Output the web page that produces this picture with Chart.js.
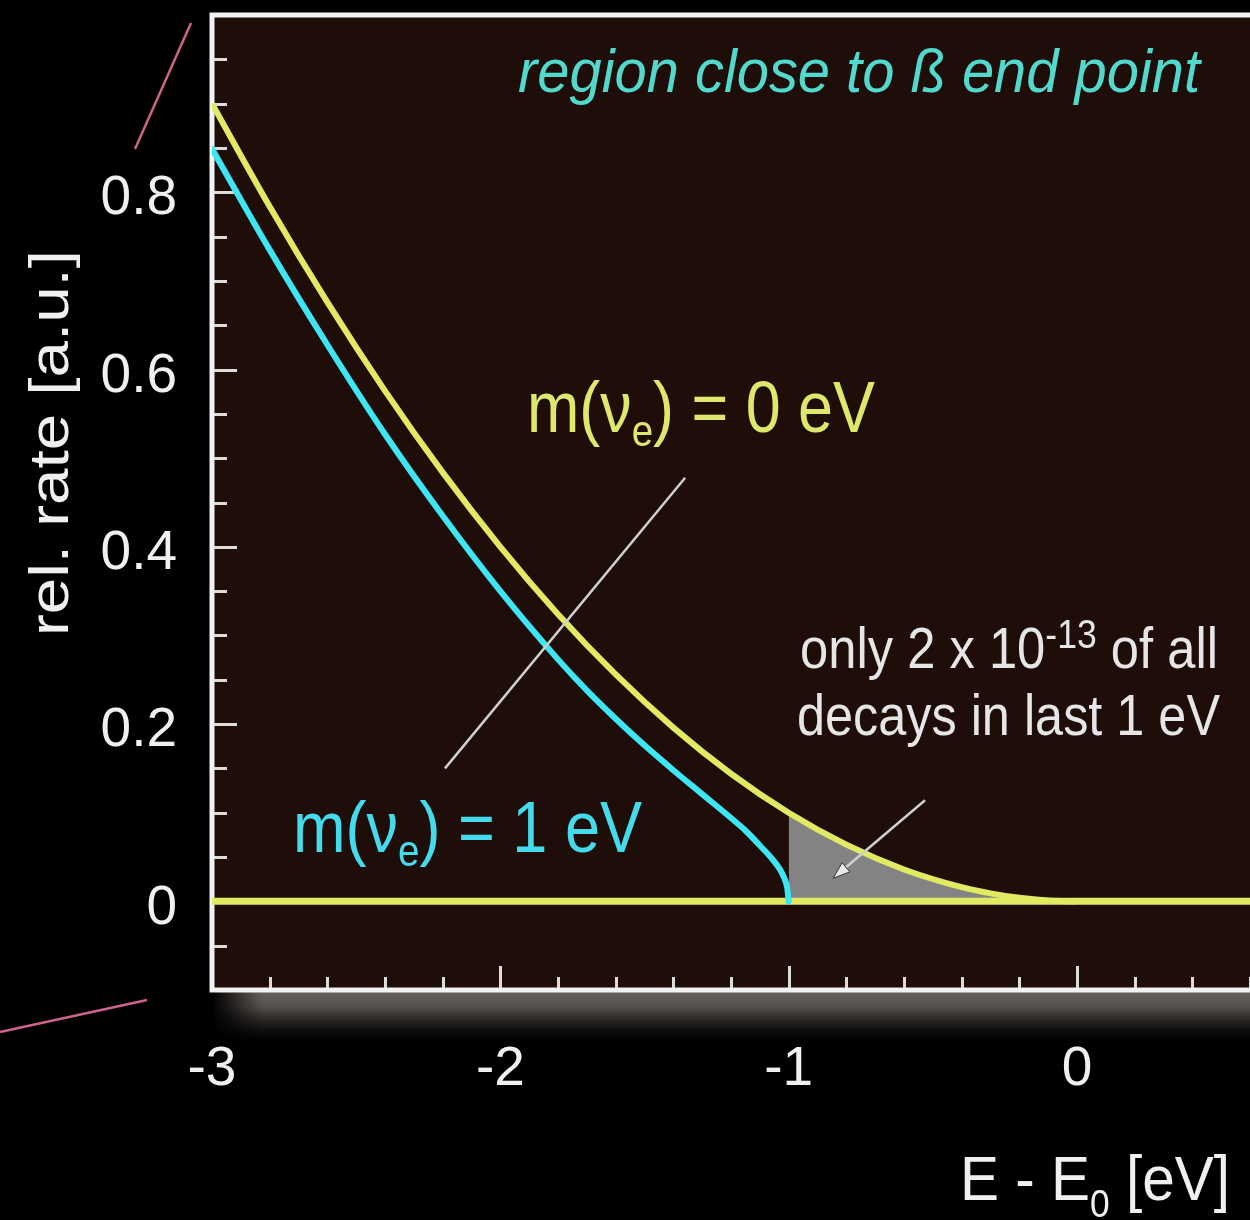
<!DOCTYPE html>
<html>
<head>
<meta charset="utf-8">
<title>Beta spectrum near the end point</title>
<script src="https://cdn.jsdelivr.net/npm/chart.js@4.4.1/dist/chart.umd.min.js"></script>
<style>
  html, body { margin: 0; padding: 0; background: #000; }
  #wrap { position: relative; width: 1250px; height: 1220px; overflow: hidden; }
</style>
</head>
<body>
<div id="wrap"><canvas id="spectrum"></canvas></div>
<script>
// Relative beta decay rate close to the end point E0, for two neutrino masses.

// m(nu_e) = 0 eV
const energyM0 = [-3.0, -2.8, -2.6, -2.4, -2.2, -2.0, -1.8, -1.6, -1.4, -1.2, -1.0, -0.8, -0.6, -0.4, -0.3, -0.2, -0.1, 0.0];
const rateM0   = [0.900, 0.784, 0.676, 0.576, 0.484, 0.400, 0.324, 0.256, 0.196, 0.144, 0.100, 0.064, 0.036, 0.016, 0.009, 0.004, 0.001, 0.000];

// m(nu_e) = 1 eV
const energyM1 = [-3.0, -2.8, -2.6, -2.4, -2.2, -2.0, -1.8, -1.7, -1.6, -1.5, -1.4, -1.3, -1.2, -1.15, -1.1, -1.06, -1.03, -1.015, -1.005, -1.0];
const rateM1   = [0.849, 0.735, 0.628, 0.527, 0.435, 0.350, 0.273, 0.238, 0.206, 0.176, 0.148, 0.121, 0.094, 0.080, 0.063, 0.049, 0.036, 0.026, 0.015, 0.000];

// zero-rate reference line
const baselineEnergy = [-3.0, 0.6];
const baselineRate   = [0.0, 0.0];

// shaded part: the last 1 eV below E0
const lastEvFrom = -1.0;

// axes
const xTickValues = [-3, -2, -1, 0];
const xTickLabels = ['-3', '-2', '-1', '0'];
const yTickValues = [0, 0.2, 0.4, 0.6, 0.8];
const yTickLabels = ['0', '0.2', '0.4', '0.6', '0.8'];

const FONT = "'Liberation Sans', Arial, Helvetica, sans-serif";
const YELLOW = '#e0ea62';
const CYAN = '#3ee6f4';

const zip = (xs, ys) => xs.map((x, i) => ({ x: x, y: ys[i] }));
const shadePoints = zip(energyM0, rateM0).filter(p => p.x >= lastEvFrom);

// draws a run of text pieces (with sub/superscripts), squeezed to a given width
function drawRich(ctx, parts, x, y, width, color, italic) {
  ctx.save();
  let natural = 0;
  parts.forEach(p => {
    ctx.font = (italic ? 'italic ' : '') + p.size + 'px ' + FONT;
    natural += ctx.measureText(p.t).width;
  });
  const sx = width / natural;
  ctx.translate(x, y);
  ctx.scale(sx, 1);
  ctx.fillStyle = color;
  ctx.textBaseline = 'alphabetic';
  ctx.textAlign = 'left';
  let cx = 0;
  parts.forEach(p => {
    ctx.font = (italic ? 'italic ' : '') + p.size + 'px ' + FONT;
    ctx.fillText(p.t, cx, p.dy || 0);
    cx += ctx.measureText(p.t).width;
  });
  ctx.restore();
}

const framePlugin = {
  id: 'frame',
  beforeDraw(chart) {
    const { ctx, chartArea: a, width, height } = chart;
    ctx.save();
    ctx.fillStyle = '#000';
    ctx.fillRect(0, 0, width, height);
    ctx.fillStyle = '#1e0d08';
    ctx.fillRect(a.left, a.top, a.right - a.left, a.bottom - a.top);
    // soft light band under the energy axis
    const top = a.bottom + 2, depth = 52;
    const g = ctx.createLinearGradient(0, top, 0, top + depth);
    g.addColorStop(0, 'rgba(104,98,94,1)');
    g.addColorStop(0.3, 'rgba(92,86,83,0.9)');
    g.addColorStop(0.65, 'rgba(50,47,45,0.55)');
    g.addColorStop(1, 'rgba(0,0,0,0)');
    ctx.fillStyle = g;
    ctx.fillRect(a.left, top, width - a.left, depth);
    const h = ctx.createLinearGradient(a.left, 0, a.left + 50, 0);
    h.addColorStop(0, 'rgba(0,0,0,1)');
    h.addColorStop(1, 'rgba(0,0,0,0)');
    ctx.fillStyle = h;
    ctx.fillRect(a.left - 2, top, 52, depth);
    ctx.restore();
  },
  beforeDatasetsDraw(chart) {
    const { ctx, chartArea: a, scales } = chart;
    const xs = scales.x, ys = scales.y;
    ctx.save();
    ctx.strokeStyle = '#dcdcdc';
    ctx.lineWidth = 3;
    ctx.lineCap = 'butt';
    // x ticks every 0.2, pointing into the plot
    for (let k = -30; k <= 6; k += 2) {
      const px = Math.round(xs.getPixelForValue(k / 10)) + 0.5;
      const len = (k % 10 === 0) ? 24 : 13;
      ctx.beginPath();
      ctx.moveTo(px, a.bottom);
      ctx.lineTo(px, a.bottom - len);
      ctx.stroke();
    }
    // y ticks every 0.05
    for (let k = -2; k <= 20; k++) {
      const py = Math.round(ys.getPixelForValue(k * 0.05)) + 0.5;
      const len = (k % 4 === 0) ? 25 : 15;
      ctx.beginPath();
      ctx.moveTo(a.left, py);
      ctx.lineTo(a.left + len, py);
      ctx.stroke();
    }
    // frame: left, top and bottom edges
    ctx.strokeStyle = '#f2f2f2';
    ctx.lineWidth = 5;
    ctx.beginPath();
    ctx.moveTo(a.right + 5, a.top);
    ctx.lineTo(a.left, a.top);
    ctx.lineTo(a.left, a.bottom);
    ctx.lineTo(a.right + 5, a.bottom);
    ctx.stroke();
    ctx.restore();
  },
  afterDatasetsDraw(chart) {
    const { ctx, scales } = chart;
    const xs = scales.x, ys = scales.y;
    const P = (x, y) => [xs.getPixelForValue(x), ys.getPixelForValue(y)];
    ctx.save();

    // pointer from the m = 0 label across both curves
    ctx.strokeStyle = '#cfcfcf';
    ctx.lineWidth = 2.5;
    let p1 = P(-2.192, 0.150), p2 = P(-1.359, 0.478);
    ctx.beginPath(); ctx.moveTo(p1[0], p1[1]); ctx.lineTo(p2[0], p2[1]); ctx.stroke();

    // arrow onto the shaded area
    const a1 = P(-0.527, 0.114), a2 = P(-0.846, 0.026);
    const ang = Math.atan2(a2[1] - a1[1], a2[0] - a1[0]);
    const hl = 17, hw = 6;
    const bx = a2[0] - hl * Math.cos(ang), by = a2[1] - hl * Math.sin(ang);
    ctx.beginPath(); ctx.moveTo(a1[0], a1[1]); ctx.lineTo(bx, by); ctx.stroke();
    ctx.beginPath();
    ctx.moveTo(a2[0], a2[1]);
    ctx.lineTo(bx + hw * Math.sin(ang), by - hw * Math.cos(ang));
    ctx.lineTo(bx - hw * Math.sin(ang), by + hw * Math.cos(ang));
    ctx.closePath();
    ctx.fillStyle = '#e8e8e8';
    ctx.fill();
    ctx.strokeStyle = '#333';
    ctx.lineWidth = 1;
    ctx.stroke();

    // labels inside the plot
    drawRich(ctx, [{ t: 'region close to ß end point', size: 62 }], 518, 92, 682, '#52d8cc', true);
    drawRich(ctx, [{ t: 'm(ν', size: 72 }, { t: 'e', size: 44, dy: 14 }, { t: ') = 0 eV', size: 72 }],
             527, 432, 348, '#dde86c', false);
    drawRich(ctx, [{ t: 'm(ν', size: 72 }, { t: 'e', size: 44, dy: 14 }, { t: ') = 1 eV', size: 72 }],
             293, 852, 349, '#44dcec', false);
    drawRich(ctx, [{ t: 'only 2 x 10', size: 57 }, { t: '-13', size: 40, dy: -20 }, { t: ' of all', size: 57 }],
             800, 668, 418, '#e6e6e6', false);
    drawRich(ctx, [{ t: 'decays in last 1 eV', size: 57 }], 797, 735, 423, '#e6e6e6', false);

    // axis titles
    drawRich(ctx, [{ t: 'E - E', size: 63 }, { t: '0', size: 38, dy: 17 }, { t: ' [eV]', size: 63 }],
             960, 1200, 270, '#f0f0f0', false);
    ctx.save();
    ctx.translate(68, 636);
    ctx.rotate(-Math.PI / 2);
    drawRich(ctx, [{ t: 'rel. rate [a.u.]', size: 56 }], 0, 0, 386, '#f0f0f0', false);
    ctx.restore();

    // pink guide strokes in the margin
    ctx.strokeStyle = '#cf6390';
    ctx.lineWidth = 2.5;
    ctx.beginPath(); ctx.moveTo(135, 149); ctx.lineTo(191, 23); ctx.stroke();
    ctx.beginPath(); ctx.moveTo(0, 1032); ctx.lineTo(147, 1000); ctx.stroke();

    ctx.restore();
  }
};

new Chart(document.getElementById('spectrum'), {
  type: 'line',
  data: {
    datasets: [
      {
        label: 'last 1 eV',
        data: shadePoints,
        borderWidth: 0,
        pointRadius: 0,
        backgroundColor: '#838383',
        fill: 'origin',
        cubicInterpolationMode: 'monotone',
        order: 4
      },
      {
        label: 'zero',
        data: zip(baselineEnergy, baselineRate),
        borderColor: YELLOW,
        borderWidth: 7,
        pointRadius: 0,
        fill: false,
        order: 3
      },
      {
        label: 'm(νe) = 0 eV',
        data: zip(energyM0, rateM0),
        borderColor: YELLOW,
        borderWidth: 6,
        pointRadius: 0,
        fill: false,
        cubicInterpolationMode: 'monotone',
        order: 2
      },
      {
        label: 'm(νe) = 1 eV',
        data: zip(energyM1, rateM1),
        borderColor: CYAN,
        borderWidth: 6,
        borderCapStyle: 'round',
        pointRadius: 0,
        fill: false,
        cubicInterpolationMode: 'monotone',
        order: 1
      }
    ]
  },
  options: {
    responsive: true,
    maintainAspectRatio: false,
    animation: false,
    devicePixelRatio: 1,
    layout: { padding: { top: 15, right: 0, bottom: 0, left: 0 } },
    plugins: { legend: { display: false }, tooltip: { enabled: false } },
    elements: { line: { borderJoinStyle: 'round' } },
    scales: {
      x: {
        type: 'linear',
        min: -3,
        max: 0.6,
        border: { display: false },
        grid: { display: false, drawTicks: false },
        afterBuildTicks: s => { s.ticks = xTickValues.map(v => ({ value: v })); },
        afterFit: s => { s.height = 230; s.paddingLeft = 0; s.paddingRight = 0; },
        ticks: {
          color: '#f0f0f0',
          padding: 47,
          maxRotation: 0,
          font: { family: FONT, size: 55 },
          callback: (v, i) => xTickLabels[i]
        }
      },
      y: {
        type: 'linear',
        min: -0.1,
        max: 1.0,
        border: { display: false },
        grid: { display: false, drawTicks: false },
        afterBuildTicks: s => { s.ticks = yTickValues.map(v => ({ value: v })); },
        afterFit: s => { s.width = 212; s.paddingTop = 0; s.paddingBottom = 0; },
        ticks: {
          color: '#f0f0f0',
          padding: 35,
          labelOffset: 7,
          font: { family: FONT, size: 55 },
          callback: (v, i) => yTickLabels[i]
        }
      }
    }
  },
  plugins: [framePlugin]
});
</script>
</body>
</html>
